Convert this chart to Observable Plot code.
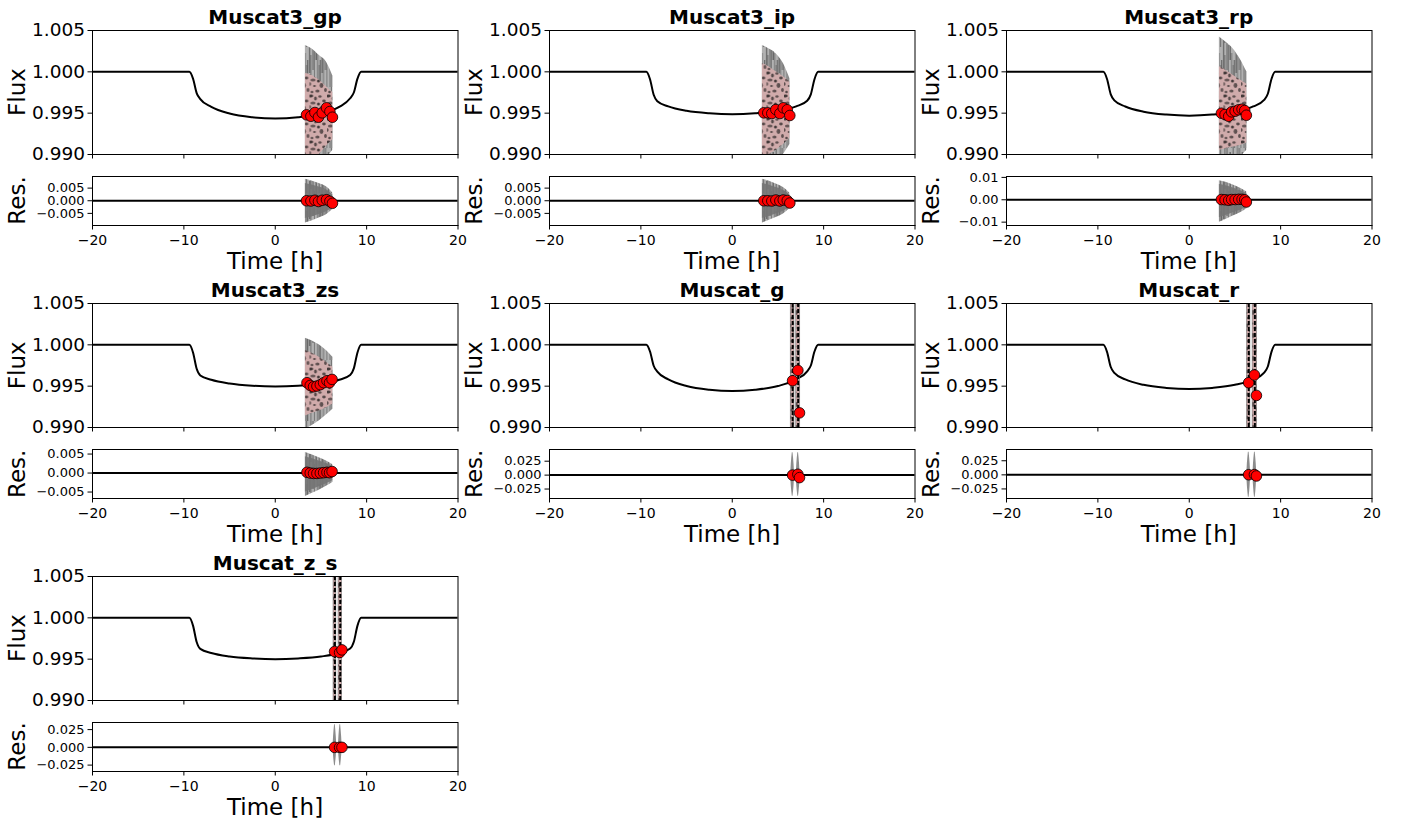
<!DOCTYPE html>
<html>
<head>
<meta charset="utf-8">
<script src="https://cdn.jsdelivr.net/npm/d3@7"></script>
<script src="https://cdn.jsdelivr.net/npm/@observablehq/plot@0.6"></script>
<style>
  html, body { margin: 0; padding: 0; background: #fff; }
  #fig { position: relative; width: 1406px; height: 822px; overflow: hidden; font-family: "DejaVu Sans", sans-serif; }
  #fig .pane { position: absolute; }
  #fig svg.labels { position: absolute; left: 0; top: 0; pointer-events: none; }
</style>
</head>
<body>
<div id="fig"></div>
<script>
// ---- shared axes ----
const xTicks = [-20, -10, 0, 10, 20];
const fluxTicks = [0.990, 0.995, 1.000, 1.005];
const fluxDomain = [0.990, 1.005];

// ---- transit model, sampled at these times [h] ----
const modelTime = [-20, -9.4, -9.0, -8.6, -8.2, -7, -5, -2.5, 0, 2.5, 5, 7, 8.2, 8.6, 9.0, 9.4, 20];
const gpModel  = [1, 1, 0.99918, 0.99743, 0.99670, 0.99576, 0.99496, 0.99451, 0.99435, 0.99451, 0.99496, 0.99576, 0.99680, 0.99750, 0.99918, 1, 1];
const ipModel  = [1, 1, 0.99911, 0.99723, 0.99645, 0.99582, 0.99528, 0.99498, 0.99487, 0.99498, 0.99528, 0.99582, 0.99650, 0.99728, 0.99911, 1, 1];
const rpModel  = [1, 1, 0.99914, 0.99731, 0.99655, 0.99581, 0.99518, 0.99483, 0.99470, 0.99483, 0.99518, 0.99581, 0.99660, 0.99735, 0.99914, 1, 1];
const zsModel  = [1, 1, 0.99908, 0.99711, 0.99630, 0.99577, 0.99532, 0.99506, 0.99497, 0.99506, 0.99532, 0.99577, 0.99635, 0.99715, 0.99908, 1, 1];
const gModel   = [1, 1, 0.99919, 0.99747, 0.99676, 0.99582, 0.99502, 0.99457, 0.99441, 0.99457, 0.99502, 0.99582, 0.99680, 0.99750, 0.99919, 1, 1];
const rModel   = [1, 1, 0.99915, 0.99735, 0.99660, 0.99582, 0.99516, 0.99479, 0.99465, 0.99479, 0.99516, 0.99582, 0.99665, 0.99738, 0.99915, 1, 1];
const z_sModel = [1, 1, 0.99906, 0.99707, 0.99624, 0.99574, 0.99532, 0.99509, 0.99500, 0.99509, 0.99532, 0.99574, 0.99628, 0.99710, 0.99906, 1, 1];

// ---- binned light curves (time [h], flux, residual) ----
const gpTime = [3.42, 3.90, 4.34, 4.73, 5.14, 5.61, 5.98, 6.26];
const gpFlux = [0.99480, 0.99463, 0.99508, 0.99451, 0.99504, 0.99565, 0.99520, 0.99451];
const gpRes  = [0.0000, -0.0001, 0.0002, -0.0003, 0.0002, 0.0004, -0.0002, -0.0010];

const ipTime = [3.45, 3.89, 4.33, 4.77, 5.21, 5.58, 6.02, 6.30];
const ipFlux = [0.99504, 0.99504, 0.99496, 0.99544, 0.99496, 0.99565, 0.99541, 0.99472];
const ipRes  = [0.0000, 0.0000, -0.0001, 0.0003, -0.0001, 0.0003, 0.0001, -0.0009];

const rpTime = [3.52, 3.92, 4.32, 4.64, 5.02, 5.41, 5.78, 6.07, 6.25];
const rpFlux = [0.99499, 0.99484, 0.99463, 0.99516, 0.99524, 0.99541, 0.99548, 0.99532, 0.99475];
const rpRes  = [0.0001, 0.0000, -0.0002, 0.0001, 0.0001, 0.0002, 0.0002, 0.0000, -0.0010];

const zsTime = [3.47, 3.83, 4.19, 4.56, 4.93, 5.29, 5.66, 5.94, 6.22];
const zsFlux = [0.99542, 0.99509, 0.99493, 0.99502, 0.99518, 0.99542, 0.99566, 0.99542, 0.99582];
const zsRes  = [0.0002, 0.0000, -0.0001, -0.0001, 0.0000, 0.0001, 0.0002, 0.0001, 0.0004];

const gTime = [6.60, 7.18, 7.36];
const gFlux = [0.99566, 0.99691, 0.99177];
const gRes  = [0.0000, 0.0015, -0.0045];

const rTime = [6.50, 7.13, 7.35];
const rFlux = [0.99542, 0.99635, 0.99388];
const rRes  = [0.0002, 0.0005, -0.0020];

const z_sTime = [6.49, 7.04, 7.30];
const z_sFlux = [0.99592, 0.99580, 0.99612];
const z_sRes  = [0.0000, 0.0000, 0.0000];

// ---- spread of the unbinned MuSCAT3 points (time [h]) ----
const cloudTime = [3.3, 4.0, 4.8, 5.6, 6.3];
const gpOuterHi = [1.0032, 1.0028, 1.0020, 1.0012, 0.9995];
const gpOuterLo = [0.9880, 0.9880, 0.9885, 0.9895, 0.9905];
const gpInnerHi = [0.9998, 0.9996, 0.9990, 0.9982, 0.9975];
const gpInnerLo = [0.9890, 0.9895, 0.9900, 0.9910, 0.9918];
const gpResHi   = [0.0085, 0.0078, 0.0068, 0.0055, 0.0030];
const gpResLo   = [-0.0088, -0.0080, -0.0068, -0.0055, -0.0035];

const ipOuterHi = [1.0032, 1.0028, 1.0022, 1.0010, 0.9992];
const ipOuterLo = [0.9880, 0.9885, 0.9890, 0.9900, 0.9912];
const ipInnerHi = [1.0010, 1.0006, 1.0000, 0.9994, 0.9988];
const ipInnerLo = [0.9895, 0.9900, 0.9905, 0.9912, 0.9920];
const ipResHi   = [0.0085, 0.0078, 0.0066, 0.0052, 0.0030];
const ipResLo   = [-0.0088, -0.0078, -0.0066, -0.0052, -0.0032];

const rpOuterHi = [1.0042, 1.0036, 1.0028, 1.0015, 1.0000];
const rpOuterLo = [0.9880, 0.9885, 0.9890, 0.9897, 0.9905];
const rpInnerHi = [1.0006, 1.0002, 0.9996, 0.9990, 0.9985];
const rpInnerLo = [0.9905, 0.9907, 0.9909, 0.9911, 0.9914];
const rpResHi   = [0.0085, 0.0078, 0.0066, 0.0052, 0.0035];
const rpResLo   = [-0.0100, -0.0088, -0.0072, -0.0058, -0.0040];

const zsOuterHi = [1.0008, 1.0005, 1.0000, 0.9993, 0.9985];
const zsOuterLo = [0.9898, 0.9902, 0.9908, 0.9915, 0.9922];
const zsInnerHi = [0.9993, 0.9990, 0.9985, 0.9979, 0.9973];
const zsInnerLo = [0.9914, 0.9917, 0.9920, 0.9924, 0.9928];
const zsResHi   = [0.0054, 0.0048, 0.0040, 0.0032, 0.0022];
const zsResLo   = [-0.0062, -0.0054, -0.0045, -0.0035, -0.0025];

// ---- MuSCAT (2-visit) unbinned strips: [start, end] in hours ----
const gStrips   = [[6.41, 6.81], [7.00, 7.43]];
const rStrips   = [[6.33, 6.69], [6.94, 7.42]];
const z_sStrips = [[6.38, 6.68], [6.93, 7.30]];
// residual spindle outline: residual level and half-width in hours
const gSpindleRes   = [-0.038, -0.020, 0, 0.020, 0.040];
const rSpindleRes   = [-0.040, -0.020, 0, 0.020, 0.040];
const z_sSpindleRes = [-0.026, -0.012, 0, 0.015, 0.032];
const spindleHalf   = [0.04, 0.15, 0.2, 0.15, 0.04];

// ---- residual axes ----
const resDomainGp = [-0.0098, 0.0096];
const resDomainIp = [-0.0098, 0.0096];
const resDomainRp = [-0.0115, 0.0104];
const resDomainZs = [-0.0067, 0.0062];
const resDomainG  = [-0.042, 0.046];
const resDomainR  = [-0.042, 0.045];
const resDomainZ_s = [-0.034, 0.035];
const resTicks5  = [-0.005, 0, 0.005];
const resTicks10 = [-0.01, 0, 0.01];
const resTicks25 = [-0.025, 0, 0.025];

const cloud = (oHi, oLo, iHi, iLo, rHi, rLo) =>
  cloudTime.map((t, i) => ({t, oHi: oHi[i], oLo: oLo[i], iHi: iHi[i], iLo: iLo[i], rHi: rHi[i], rLo: rLo[i]}));

const panels = [
  {name: "Muscat3_gp", col: 0, row: 0, model: gpModel, time: gpTime, flux: gpFlux, res: gpRes,
   cloud: cloud(gpOuterHi, gpOuterLo, gpInnerHi, gpInnerLo, gpResHi, gpResLo),
   resDomain: resDomainGp, resTicks: resTicks5, resFormat: ".3f"},
  {name: "Muscat3_ip", col: 1, row: 0, model: ipModel, time: ipTime, flux: ipFlux, res: ipRes,
   cloud: cloud(ipOuterHi, ipOuterLo, ipInnerHi, ipInnerLo, ipResHi, ipResLo),
   resDomain: resDomainIp, resTicks: resTicks5, resFormat: ".3f"},
  {name: "Muscat3_rp", col: 2, row: 0, model: rpModel, time: rpTime, flux: rpFlux, res: rpRes,
   cloud: cloud(rpOuterHi, rpOuterLo, rpInnerHi, rpInnerLo, rpResHi, rpResLo),
   resDomain: resDomainRp, resTicks: resTicks10, resFormat: ".2f"},
  {name: "Muscat3_zs", col: 0, row: 1, model: zsModel, time: zsTime, flux: zsFlux, res: zsRes,
   cloud: cloud(zsOuterHi, zsOuterLo, zsInnerHi, zsInnerLo, zsResHi, zsResLo),
   resDomain: resDomainZs, resTicks: resTicks5, resFormat: ".3f"},
  {name: "Muscat_g", col: 1, row: 1, model: gModel, time: gTime, flux: gFlux, res: gRes,
   strips: gStrips, spindle: gSpindleRes,
   resDomain: resDomainG, resTicks: resTicks25, resFormat: ".3f"},
  {name: "Muscat_r", col: 2, row: 1, model: rModel, time: rTime, flux: rFlux, res: rRes,
   strips: rStrips, spindle: rSpindleRes,
   resDomain: resDomainR, resTicks: resTicks25, resFormat: ".3f"},
  {name: "Muscat_z_s", col: 0, row: 2, model: z_sModel, time: z_sTime, flux: z_sFlux, res: z_sRes,
   strips: z_sStrips, spindle: z_sSpindleRes,
   resDomain: resDomainZ_s, resTicks: resTicks25, resFormat: ".3f"}
];

// ---- layout (pixels) ----
const frameLeft = [92.3, 549.3, 1006];
const frameTop = [30, 303.3, 576];
const FW = 365.5, FH = 124, RES_OFFSET = 146, RH = 49;
const ML = 80, MR = 8;
const FONT = "'DejaVu Sans', sans-serif";
const PINK = "#d0abab";
// placeholder fills that get swapped for the tiled textures below
const SPECKLE_TAG = "#cfaaab";
const FRINGE_TAG = "#999998";

const fig = document.getElementById("fig");

// tiled textures: dark blotches over pink for the dense point clouds, vertical streaks for their fringes
const speckleBlobs = [
  [1.5, 2, 2.2, 1.4, 0.75], [6, 4.5, 1.4, 1.9, 0.65], [10.5, 2.5, 1.7, 1.3, 0.6], [3.5, 9, 2.6, 1.6, 0.55],
  [9, 10, 1.5, 1.5, 0.75], [12, 14.5, 1.9, 2.4, 0.6], [5, 15, 1.4, 1.1, 0.65], [0.5, 13, 1.1, 1.8, 0.6],
  [14.5, 7, 1.8, 1.4, 0.65], [16, 19, 1.4, 2.0, 0.6], [8, 20, 2.1, 1.5, 0.6], [2.5, 21, 1.3, 1.3, 0.65]
];
const streakLines = [
  [0.5, 0, 1, 45, 0.45], [2, 20, 0.8, 41, 0.4], [3.5, 5, 1.2, 30, 0.5], [5.2, 28, 0.9, 33, 0.4],
  [6.6, 0, 1.0, 22, 0.45], [7.8, 35, 1.0, 26, 0.5], [6.6, 40, 0.8, 21, 0.35], [9.5, 10, 1.3, 38, 0.4],
  [11, 0, 0.9, 18, 0.45], [11, 30, 0.9, 31, 0.4]
];
function addPatterns(svg, id) {
  const defs = d3.select(svg).insert("defs", ":first-child");
  const sp = defs.append("pattern").attr("id", id + "-speckle")
    .attr("patternUnits", "userSpaceOnUse").attr("width", 17.5).attr("height", 23);
  sp.append("rect").attr("width", 17.5).attr("height", 23).attr("fill", PINK);
  speckleBlobs.forEach(([cx, cy, rx, ry, o]) => sp.append("ellipse")
    .attr("cx", cx).attr("cy", cy).attr("rx", rx).attr("ry", ry).attr("fill", "#141414").attr("fill-opacity", o));
  const st = defs.append("pattern").attr("id", id + "-streak")
    .attr("patternUnits", "userSpaceOnUse").attr("width", 12.5).attr("height", 61);
  st.append("rect").attr("width", 12.5).attr("height", 61).attr("fill", "#000").attr("fill-opacity", 0.3);
  streakLines.forEach(([x, y, w, h, o]) => st.append("rect")
    .attr("x", x).attr("y", y).attr("width", w).attr("height", h).attr("fill", "#000").attr("fill-opacity", o));
}

let paneCount = 0;
function place(svg, left, top) {
  const d = document.createElement("div");
  d.className = "pane";
  d.style.left = left + "px";
  d.style.top = top + "px";
  d.appendChild(svg);
  fig.appendChild(d);
  const id = "pane" + (paneCount++);
  const speckle = d3.select(svg).selectAll(`g[fill="${SPECKLE_TAG}"]`);
  const fringe = d3.select(svg).selectAll(`g[fill="${FRINGE_TAG}"]`);
  if (speckle.empty() && fringe.empty()) return;
  addPatterns(svg, id);
  speckle.attr("fill", `url(#${id}-speckle)`);
  fringe.attr("fill", `url(#${id}-streak)`);
}

function stripMarks(p) {
  const rows = p.strips.map(([a, b]) => ({a, b, c: (a + b) / 2}));
  return [
    Plot.rect(rows, {x1: "a", x2: "b", fill: SPECKLE_TAG, stroke: "#555", strokeOpacity: 0.6, strokeWidth: 0.8, clip: true}),
    Plot.ruleX(rows, {x: "c", stroke: "black", strokeWidth: 2, strokeDasharray: "4,2", clip: true})
  ];
}

function fluxPlot(p) {
  const L = frameLeft[p.col], T = frameTop[p.row];
  const model = modelTime.map((t, i) => ({t, f: p.model[i]}));
  const bins = p.time.map((t, i) => ({t, f: p.flux[i]}));
  const marks = [
    Plot.line(model, {x: "t", y: "f", curve: "monotone-x", stroke: "black", strokeWidth: 2, clip: true})
  ];
  if (p.cloud) {
    marks.push(
      Plot.areaY(p.cloud, {x: "t", y1: "oLo", y2: "oHi", curve: "monotone-x", fill: FRINGE_TAG, clip: true}),
      Plot.areaY(p.cloud, {x: "t", y1: "iLo", y2: "iHi", curve: "monotone-x", fill: SPECKLE_TAG, clip: true})
    );
  }
  if (p.strips) marks.push(...stripMarks(p));
  marks.push(
    Plot.dot(bins, {x: "t", y: "f", r: 5.3, fill: "red", stroke: "black", strokeWidth: 0.8}),
    Plot.frame({stroke: "black", strokeWidth: 1}),
    Plot.axisX({ticks: xTicks, tickSize: 4.5, tickFormat: () => "", strokeWidth: 1}),
    Plot.axisY({ticks: fluxTicks, tickSize: 4.5, tickPadding: 3, tickFormat: d3.format(".3f"), fontSize: 18.5, strokeWidth: 1})
  );
  const svg = Plot.plot({
    width: ML + FW + MR, height: 5 + FH + 6,
    marginLeft: ML, marginRight: MR, marginTop: 5, marginBottom: 6,
    style: {fontFamily: FONT, color: "black", background: "transparent", overflow: "visible"},
    x: {domain: [-20, 20], label: null},
    y: {domain: fluxDomain, label: null},
    marks
  });
  place(svg, L - ML, T - 5);
}

function resPlot(p) {
  const L = frameLeft[p.col], T = frameTop[p.row] + RES_OFFSET;
  const bins = p.time.map((t, i) => ({t, r: p.res[i]}));
  const marks = [];
  if (p.cloud) {
    marks.push(
      Plot.areaY(p.cloud, {x: "t", y1: "rLo", y2: "rHi", curve: "monotone-x", fill: FRINGE_TAG, clip: true}),
      Plot.areaY(p.cloud, {x: "t", y1: d => d.rLo * 0.8, y2: d => d.rHi * 0.8, curve: "monotone-x", fill: "#747474", fillOpacity: 0.9, clip: true})
    );
  }
  if (p.strips) {
    const rows = [];
    p.strips.forEach(([a, b], k) => {
      const c = (a + b) / 2;
      p.spindle.forEach((y, i) => rows.push({k, y, x1: c - spindleHalf[i], x2: c + spindleHalf[i]}));
    });
    marks.push(Plot.areaX(rows, {y: "y", x1: "x1", x2: "x2", z: "k", curve: "monotone-y", fill: "#000", fillOpacity: 0.45, clip: true}));
  }
  marks.push(
    Plot.ruleY([0], {stroke: "black", strokeWidth: 2}),
    Plot.dot(bins, {x: "t", y: "r", r: 5.3, fill: "red", stroke: "black", strokeWidth: 0.8}),
    Plot.frame({stroke: "black", strokeWidth: 1}),
    Plot.axisX({ticks: xTicks, tickSize: 4.5, tickPadding: 5, tickFormat: d3.format("d"), fontSize: 14, strokeWidth: 1}),
    Plot.axisY({ticks: p.resTicks, tickSize: 4.5, tickPadding: 3.5, tickFormat: d3.format(p.resFormat), fontSize: 13, strokeWidth: 1})
  );
  const svg = Plot.plot({
    width: ML + FW + MR, height: 5 + RH + 30,
    marginLeft: ML, marginRight: MR, marginTop: 5, marginBottom: 30,
    style: {fontFamily: FONT, color: "black", background: "transparent", overflow: "visible"},
    x: {domain: [-20, 20], label: null},
    y: {domain: p.resDomain, label: null},
    marks
  });
  place(svg, L - ML, T - 5);
}

panels.forEach(p => { fluxPlot(p); resPlot(p); });

// ---- titles and axis labels ----
const labels = d3.select(fig).append("svg")
  .attr("class", "labels").attr("width", 1406).attr("height", 822)
  .style("font-family", FONT);

panels.forEach(p => {
  const L = frameLeft[p.col], T = frameTop[p.row];
  const cx = L + FW / 2;
  labels.append("text").attr("x", cx).attr("y", T - 6)
    .attr("text-anchor", "middle").attr("font-size", 20).attr("font-weight", "bold").text(p.name);
  labels.append("text").attr("transform", `translate(${L - 67.3},${T + FH / 2}) rotate(-90)`)
    .attr("text-anchor", "middle").attr("font-size", 23).text("Flux");
  labels.append("text").attr("transform", `translate(${L - 67.3},${T + RES_OFFSET + RH / 2}) rotate(-90)`)
    .attr("text-anchor", "middle").attr("font-size", 23).text("Res.");
  labels.append("text").attr("x", cx).attr("y", T + RES_OFFSET + RH + 43.7)
    .attr("text-anchor", "middle").attr("font-size", 23).text("Time [h]");
});
</script>
</body>
</html>
